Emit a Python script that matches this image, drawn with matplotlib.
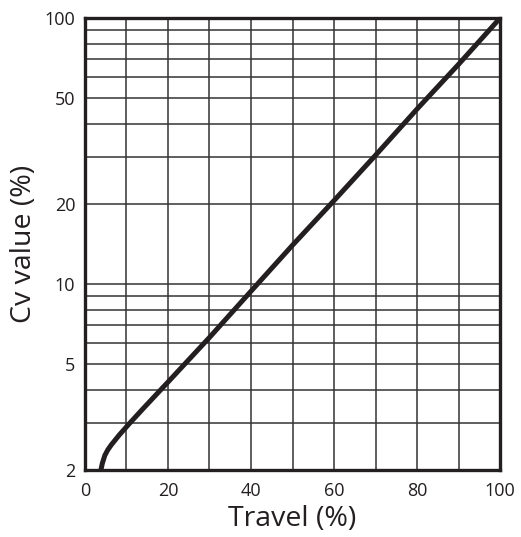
import matplotlib.pyplot as plt
from matplotlib.ticker import FixedLocator, NullFormatter
import numpy as np

plt.rcParams['font.family'] = ['Open Sans', 'DejaVu Sans']

# curve
travel = [3.85, 4.2, 4.8, 5.5, 6.3, 8.2, 10.8, 14, 20, 30, 40, 50, 60, 70, 80, 90, 100]
cv = [2.0, 2.12, 2.27, 2.38, 2.48, 2.70, 3.0, 3.4, 4.28, 6.3, 9.4, 14.0, 20.6, 30.5, 45.5, 67.0, 100]

y_ticks = [2, 5, 10, 20, 50, 100]
y_grid = [2, 3, 4, 5, 6, 7, 8, 9, 10, 20, 30, 40, 50, 60, 70, 80, 90, 100]
x_ticks = [0, 20, 40, 60, 80, 100]
x_grid = [10, 20, 30, 40, 50, 60, 70, 80, 90]

fig = plt.figure(figsize=(5.21, 5.37), dpi=100)
ax = fig.add_axes([0.163, 0.1248, 0.797, 0.8417])

for v in x_grid:
    ax.axvline(v, color='#333333', lw=1.1, zorder=1)
for v in y_grid:
    ax.axhline(v, color='#333333', lw=1.1, zorder=1)

ax.plot(travel, cv, color='#231f20', lw=3.6, solid_capstyle='butt',
        solid_joinstyle='round', zorder=3)

ax.set_yscale('log')
ax.set_xlim(0, 100)
ax.set_ylim(2, 100)
ax.yaxis.set_major_locator(FixedLocator(y_ticks))
ax.yaxis.set_minor_locator(FixedLocator([]))
ax.yaxis.set_minor_formatter(NullFormatter())
ax.set_yticklabels([str(t) for t in y_ticks])
ax.set_xticks(x_ticks)
ax.tick_params(length=0, labelsize=13, colors='#231f20')
ax.tick_params(axis='y', pad=7)
ax.tick_params(axis='x', pad=9)

for s in ax.spines.values():
    s.set_linewidth(2.4)
    s.set_color('#231f20')
    s.set_zorder(4)

ax.set_xlabel('Travel (%)', fontsize=20.5, color='#231f20', labelpad=3)
ax.set_ylabel('Cv value (%)', fontsize=20.5, color='#231f20', labelpad=5)

fig.savefig('out.png', dpi=100)
